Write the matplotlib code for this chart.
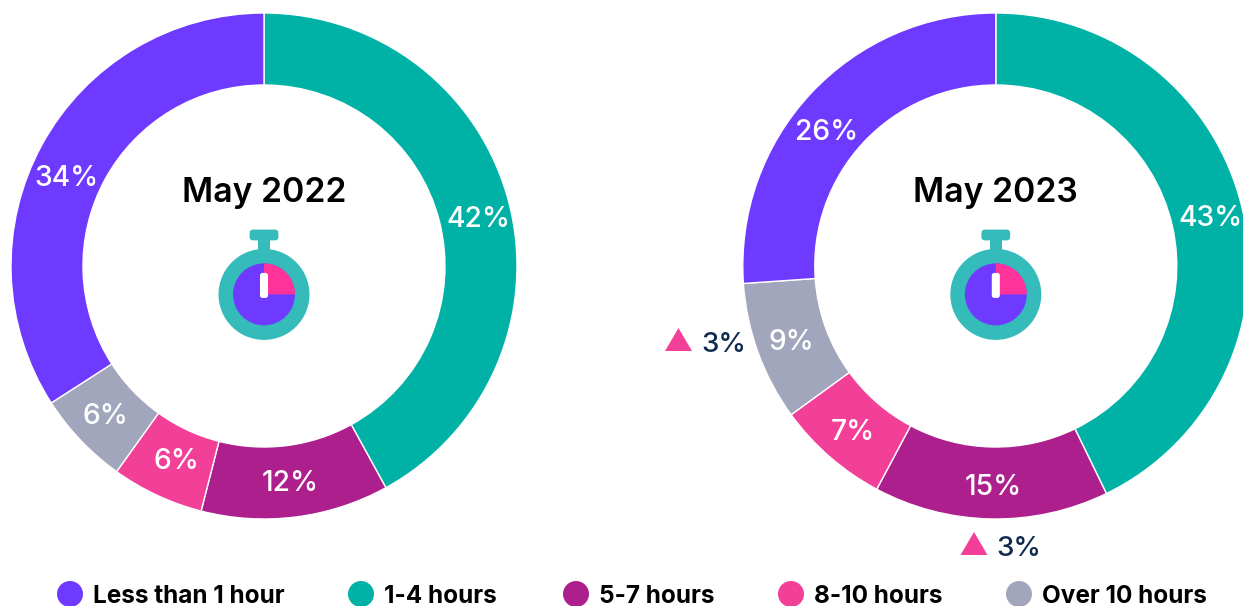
import matplotlib
matplotlib.use("Agg")
import matplotlib.pyplot as plt
from matplotlib.patches import Circle, Wedge, FancyBboxPatch, Rectangle, Polygon

plt.rcParams['font.family'] = ['Inter', 'DejaVu Sans']

categories = ["1-4 hours", "5-7 hours", "8-10 hours", "Over 10 hours", "Less than 1 hour"]
values_2022 = [42.0, 12.0, 5.9, 6.0, 34.1]
values_2023 = [42.8, 15.0, 7.2, 8.9, 26.1]
titles = ["May 2022", "May 2023"]
legend_order = ["Less than 1 hour", "1-4 hours", "5-7 hours", "8-10 hours", "Over 10 hours"]
change_labels = ["3%", "3%"]

COLORS = {"Less than 1 hour": "#6F3AFF", "1-4 hours": "#00B2A6", "5-7 hours": "#AE1F8E",
          "8-10 hours": "#F23F98", "Over 10 hours": "#A1A6BC"}
W, H = 1243, 606
fig = plt.figure(figsize=(W / 100, H / 100), dpi=100, facecolor="white")
ax = fig.add_axes([0, 0, 1, 1])

def Y(y):
    return H - y

OUTER, INNER = 253, 181
centers = [(264, 266), (995.8, 266)]
label_pos = [
    [(478, 219.5), (290, 483.5), (176, 461.5), (105, 416.5), (67, 178.5)],
    [(1211, 218.5), (993, 487.5), (853, 432.5), (791, 342.5), (827, 132.5)],
]
for vals, (cx, cy), title, lpos in zip([values_2022, values_2023], centers, titles, label_pos):
    ax.pie(vals, colors=[COLORS[c] for c in categories], startangle=90, counterclock=False,
           radius=OUTER, center=(cx, Y(cy)), frame=True,
           wedgeprops=dict(width=OUTER - INNER, edgecolor="white", linewidth=1))
    for v, (lx, ly) in zip(vals, lpos):
        ax.text(lx, Y(ly), f"{v:.0f}%", color="white", fontsize=20.3, fontweight="medium",
                ha="center", va="center")
    ax.text(cx, Y(193), title, color="black", fontsize=24.3, fontweight="semibold",
            ha="center", va="center")
    # stopwatch icon
    sx, sy = cx, Y(294.4)
    ax.add_patch(Rectangle((sx - 6, Y(252)), 12, 14, color="#36BBBB", lw=0))
    ax.add_patch(FancyBboxPatch((sx - 13, Y(239)), 26, 8, boxstyle="round,pad=0,rounding_size=2",
                                fc="#36BBBB", ec="#36BBBB", lw=2))
    ax.add_patch(Circle((sx, sy), 45.5, color="#36BBBB", lw=0))
    ax.add_patch(Circle((sx, sy), 31, color="#6F3AFF", lw=0))
    ax.add_patch(Wedge((sx, sy), 31, 0, 90, color="#FF3399", lw=0))
    ax.add_patch(FancyBboxPatch((sx - 2.5, sy - 2), 5, 22, boxstyle="round,pad=1.5,rounding_size=2.5",
                                fc="white", ec="none"))

# change markers
for (tx, ty, lab) in [(678.5, 351, change_labels[0]), (974, 555, change_labels[1])]:
    ax.add_patch(Polygon([(tx - 13.5, Y(ty)), (tx + 13.5, Y(ty)), (tx, Y(ty - 23))],
                         closed=True, color="#F23F98", lw=0))
    ax.text(tx + 22.5, Y(ty + 0.5), lab, color="#0F2A4F", fontsize=20, fontweight="medium",
            ha="left", va="baseline")

# legend
leg_x = [70, 361, 576, 791, 1019]
for name, x in zip(legend_order, leg_x):
    ax.add_patch(Circle((x, Y(594)), 13, color=COLORS[name], lw=0))
    ax.text(x + 23.5, Y(603), name, color="black", fontsize=17.5, fontweight="bold",
            ha="left", va="baseline")

ax.set_xlim(0, W)
ax.set_ylim(0, H)
ax.set_aspect("equal")
ax.axis("off")
fig.savefig("out.png", dpi=100, facecolor="white")
